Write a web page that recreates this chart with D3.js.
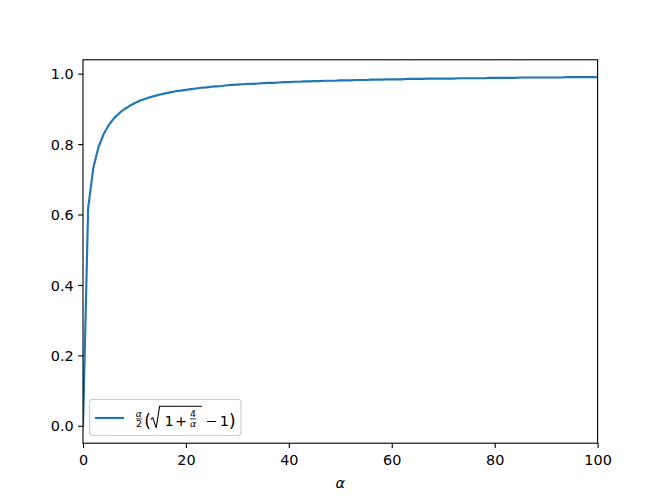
<!DOCTYPE html>
<html><head><meta charset="utf-8">
<script src="https://cdn.jsdelivr.net/npm/d3@7"></script>
<style>body{margin:0;background:#fff}svg{display:block}text{font-family:"DejaVu Sans",sans-serif}</style>
</head><body>
<script>
// alpha sampled at integers 0..100
const alphaValues = d3.range(0, 101);
const curveValues = [
0,0.618,0.732,0.791,0.828,0.854,0.873,0.887,0.899,0.908,
0.916,0.923,0.928,0.933,0.937,0.941,0.944,0.947,0.950,0.952,
0.954,0.956,0.958,0.960,0.961,0.963,0.964,0.965,0.967,0.968,
0.969,0.970,0.971,0.971,0.972,0.973,0.974,0.974,0.975,0.976,
0.976,0.977,0.977,0.978,0.978,0.979,0.979,0.980,0.980,0.980,
0.981,0.981,0.981,0.982,0.982,0.982,0.983,0.983,0.983,0.984,
0.984,0.984,0.984,0.985,0.985,0.985,0.985,0.986,0.986,0.986,
0.986,0.986,0.986,0.987,0.987,0.987,0.987,0.987,0.987,0.988,
0.988,0.988,0.988,0.988,0.988,0.989,0.989,0.989,0.989,0.989,
0.989,0.989,0.989,0.989,0.990,0.990,0.990,0.990,0.990,0.990,
0.990];
const xTicks = [0, 20, 40, 60, 80, 100];
const yTicks = [0.0, 0.2, 0.4, 0.6, 0.8, 1.0];

const W = 664, H = 498;
const L = 83, R = 597.6, T = 59.76, B = 443.2;
const svg = d3.select("body").append("svg").attr("width", W).attr("height", H);

const x = d3.scaleLinear().domain([0, 100]).range([L, R]);
const ymax = d3.max(curveValues), ymin = 0, pad = (ymax - ymin) * 0.05;
const y = d3.scaleLinear().domain([ymin - pad, ymax + pad]).range([B, T]);

// line
const pts = alphaValues.map((a, i) => [a, curveValues[i]]);
svg.append("defs").append("clipPath").attr("id", "clip")
  .append("rect").attr("x", L).attr("y", T).attr("width", R - L).attr("height", B - T);
svg.append("path").datum(pts)
  .attr("clip-path", "url(#clip)")
  .attr("d", d3.line().x(d => x(d[0])).y(d => y(d[1])))
  .attr("fill", "none").attr("stroke", "#1f77b4").attr("stroke-width", 2.16)
  .attr("stroke-linejoin", "round").attr("stroke-linecap", "square");

// axes
const xAxis = d3.axisBottom(x).tickValues(xTicks).tickFormat(d3.format("d")).tickSizeOuter(0).tickSize(4.86).tickPadding(4.5);
const yAxis = d3.axisLeft(y).tickValues(yTicks).tickFormat(d3.format(".1f")).tickSizeOuter(0).tickSize(4.86).tickPadding(4.5);
const gx = svg.append("g").attr("transform", `translate(0,${B})`).call(xAxis);
const gy = svg.append("g").attr("transform", `translate(${L},0)`).call(yAxis);
[gx, gy].forEach(g => {
  g.select(".domain").remove();
  g.selectAll(".tick line").attr("stroke", "#000").attr("stroke-width", 1.1);
  g.selectAll(".tick text").attr("fill", "#000").style("font-size", "14.4px").style("font-family", "DejaVu Sans");
});
gx.selectAll(".tick text").attr("dy", null).attr("y", 21.8);
gy.selectAll(".tick text").attr("dy", null).attr("dominant-baseline", null).attr("y", 5.2);

// spines
svg.append("rect").attr("x", L).attr("y", T).attr("width", R - L).attr("height", B - T)
  .attr("fill", "none").attr("stroke", "#000").attr("stroke-width", 1.1);

// x label
svg.append("text").attr("x", (L + R) / 2).attr("y", 488.3).attr("text-anchor", "middle")
  .style("font-size", "14.4px").style("font-style", "italic").text("α");

// legend
const lg = svg.append("g");
lg.append("rect").attr("x", 89.5).attr("y", 399.5).attr("width", 151.5).attr("height", 36)
  .attr("rx", 2.9).attr("fill", "#fff").attr("fill-opacity", 0.8)
  .attr("stroke", "#cccccc").attr("stroke-width", 1.1);
lg.append("line").attr("x1", 95).attr("x2", 124).attr("y1", 418).attr("y2", 418)
  .attr("stroke", "#1f77b4").attr("stroke-width", 2.16);
const base = 426.4, fs = 14.4, sfs = 9.4;
function frac(cx, num, den, numItalic, denItalic) {
  lg.append("text").attr("x", cx).attr("y", 417.2).attr("text-anchor", "middle")
    .style("font-size", sfs + "px").style("font-style", numItalic ? "italic" : "normal").text(num);
  lg.append("line").attr("x1", cx - 3.1).attr("x2", cx + 3.1).attr("y1", 418.9).attr("y2", 418.9)
    .attr("stroke", "#000").attr("stroke-width", 0.75);
  lg.append("text").attr("x", cx).attr("y", 426.8).attr("text-anchor", "middle")
    .style("font-size", sfs + "px").style("font-style", denItalic ? "italic" : "normal").text(den);
}
frac(138.9, "α", "2", true, false);
lg.append("text").attr("x", 144.3).attr("y", 427.4).style("font-size", "17px").text("(");
// radical sign
lg.append("path").attr("d", "M150.8,419.2 L152.8,417.8 L156.2,427.8 L159.6,406.3 L202,406.3")
  .attr("fill", "none").attr("stroke", "#000").attr("stroke-width", 1.05).attr("stroke-linejoin", "miter");
lg.append("text").attr("x", 164.6).attr("y", base).style("font-size", fs + "px").text("1");
lg.append("text").attr("x", 181).attr("y", base).attr("text-anchor", "middle").style("font-size", fs + "px").text("+");
frac(193, "4", "α", false, true);
lg.append("text").attr("x", 211.3).attr("y", base).attr("text-anchor", "middle").style("font-size", fs + "px").text("−");
lg.append("text").attr("x", 219.8).attr("y", base).style("font-size", fs + "px").text("1");
lg.append("text").attr("x", 229.1).attr("y", 427.4).style("font-size", "17px").text(")");
</script>
</body></html>
